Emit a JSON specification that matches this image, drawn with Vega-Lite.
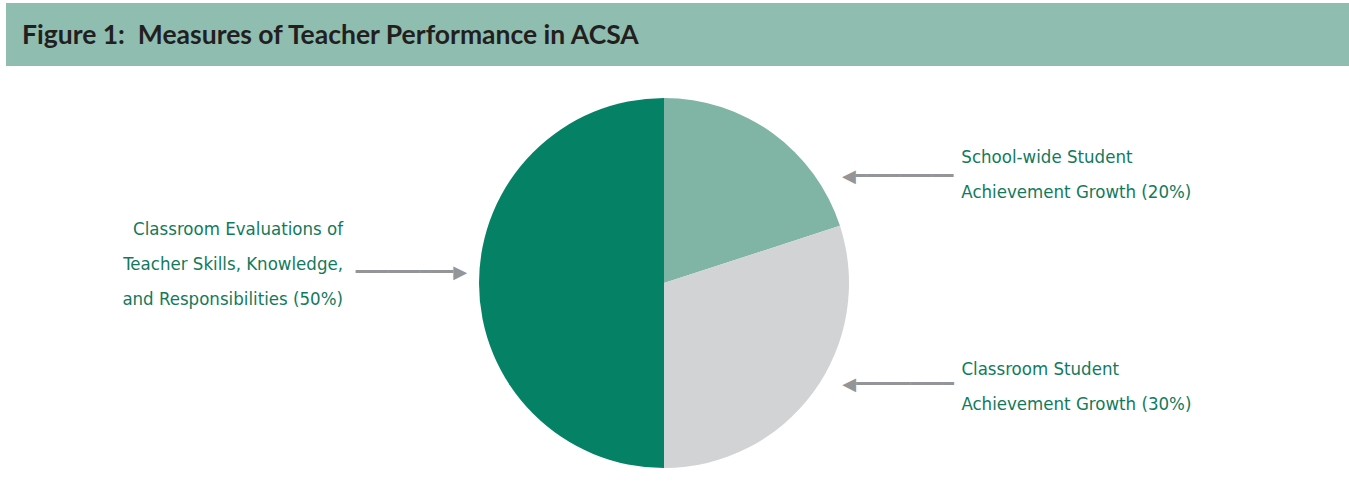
{
  "$schema": "https://vega.github.io/schema/vega-lite/v6.json",
  "background": "white",
  "padding": {"left": 6, "top": 3, "right": 0, "bottom": 0},
  "spacing": 0,
  "bounds": "flush",
  "config": {"view": {"stroke": null}, "concat": {"spacing": 0}},
  "datasets": {
    "heading": [{"heading": "Figure 1:\u00a0 Measures of Teacher Performance in ACSA"}],
    "shares": [
      {"measure": "School-wide Student Achievement Growth", "share": 20, "label": "School-wide Student\nAchievement Growth (20%)"},
      {"measure": "Classroom Student Achievement Growth", "share": 30, "label": "Classroom Student\nAchievement Growth (30%)"},
      {"measure": "Classroom Evaluations of Teacher Skills, Knowledge, and Responsibilities", "share": 50, "label": "Classroom Evaluations of\nTeacher Skills, Knowledge,\nand Responsibilities (50%)"}
    ]
  },
  "vconcat": [
    {
      "width": 1343,
      "height": 63,
      "view": {"fill": "#8fbeb1", "stroke": null},
      "data": {"name": "heading"},
      "mark": {"type": "text", "align": "left", "baseline": "middle", "dx": 16, "dy": 1, "font": "Lato", "fontWeight": "bold", "fontSize": 26.5, "color": "#231f20"},
      "encoding": {
        "x": {"datum": 0, "type": "quantitative", "scale": {"domain": [0, 1]}, "axis": null},
        "text": {"field": "heading"}
      }
    },
    {
      "width": 1316,
      "height": 434,
      "data": {"name": "shares"},
      "encoding": {
        "theta": {"field": "share", "type": "quantitative", "stack": true},
        "order": {"field": "share", "type": "quantitative"}
      },
      "layer": [
        {
          "mark": {"type": "arc", "radius": 185},
          "encoding": {
            "color": {
              "field": "measure", "type": "nominal", "legend": null,
              "scale": {
                "domain": ["School-wide Student Achievement Growth", "Classroom Student Achievement Growth", "Classroom Evaluations of Teacher Skills, Knowledge, and Responsibilities"],
                "range": ["#80b4a5", "#d1d3d4", "#058166"]
              }
            }
          }
        },
        {
          "mark": {"type": "text", "radius": 150, "align": "right", "baseline": "middle", "dx": -171, "dy": -54, "font": "DejaVu Sans Condensed", "fontSize": 18.5, "lineHeight": 35, "lineBreak": "\n", "color": "#127a5c"},
          "encoding": {"detail": {"field": "measure"}, "text": {"condition": {"test": "datum.share === 50", "field": "label"}, "value": ""}}
        },
        {
          "mark": {"type": "text", "radius": 135, "align": "left", "baseline": "middle", "dx": 218, "dy": -17, "font": "DejaVu Sans Condensed", "fontSize": 18.5, "lineHeight": 35, "lineBreak": "\n", "color": "#127a5c"},
          "encoding": {"detail": {"field": "measure"}, "text": {"condition": {"test": "datum.share === 20", "field": "label"}, "value": ""}}
        },
        {
          "mark": {"type": "text", "radius": 176, "align": "left", "baseline": "middle", "dx": 155, "dy": -17, "font": "DejaVu Sans Condensed", "fontSize": 18.5, "lineHeight": 35, "lineBreak": "\n", "color": "#127a5c"},
          "encoding": {"detail": {"field": "measure"}, "text": {"condition": {"test": "datum.share === 30", "field": "label"}, "value": ""}}
        },
        {
          "mark": {"type": "text", "radius": 197, "align": "right", "baseline": "middle", "dy": -10, "font": "DejaVu Sans", "fontSize": 18, "color": "#939598"},
          "encoding": {"detail": {"field": "measure"}, "text": {"condition": {"test": "datum.share === 50", "value": "━━━━━━━━━▶"}, "value": ""}}
        },
        {
          "mark": {"type": "text", "radius": 131, "align": "left", "baseline": "middle", "dx": 101, "font": "DejaVu Sans", "fontSize": 18, "color": "#939598"},
          "encoding": {"detail": {"field": "measure"}, "text": {"condition": {"test": "datum.share === 20", "value": "◀━━━━━━━━━"}, "value": ""}}
        },
        {
          "mark": {"type": "text", "radius": 173.5, "align": "left", "baseline": "middle", "dx": 38, "font": "DejaVu Sans", "fontSize": 18, "color": "#939598"},
          "encoding": {"detail": {"field": "measure"}, "text": {"condition": {"test": "datum.share === 30", "value": "◀━━━━━━━━━"}, "value": ""}}
        }
      ]
    }
  ]
}
